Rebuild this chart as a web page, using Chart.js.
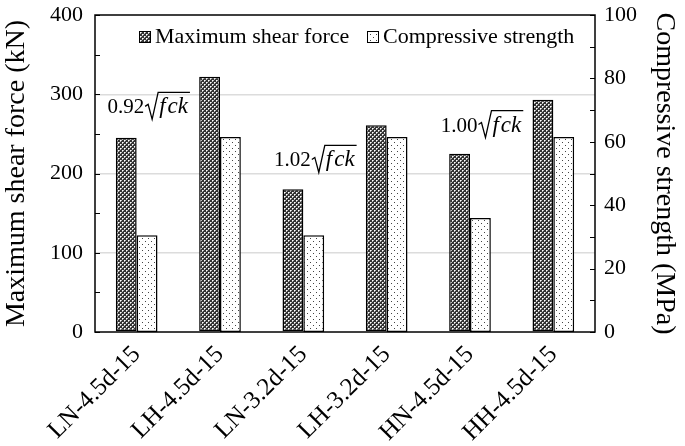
<!DOCTYPE html>
<html>
<head>
<meta charset="UTF-8">
<title>Maximum shear force and compressive strength</title>
<script src="https://cdn.jsdelivr.net/npm/chart.js"></script>
<style>
  html, body { margin: 0; padding: 0; background: #fff; }
  #wrap { width: 685px; height: 446px; position: relative; }
</style>
</head>
<body>
<div id="wrap"><canvas id="chart" width="685" height="446"></canvas></div>
<script>
// data
const specimens = ['LN-4.5d-15', 'LH-4.5d-15', 'LN-3.2d-15', 'LH-3.2d-15', 'HN-4.5d-15', 'HH-4.5d-15'];
const shearForce = [245, 322, 180, 261, 225, 293];          // kN
const compStrength = [30.5, 61.5, 30.5, 61.5, 36, 61.5];    // MPa
const seriesNames = ['Maximum shear force', 'Compressive strength'];

// ratio labels above some groups
const noteText = ['0.92', '1.02', '1.00'];
const noteIndex = [0, 2, 4];
const noteValue = [286, 219, 263];

const leftTicks = [0, 100, 200, 300, 400];
const rightTicks = [0, 20, 40, 60, 80, 100];

const SERIF = '"Liberation Serif", "DejaVu Serif", serif';

// fill patterns
function crossPattern() {
  const c = document.createElement('canvas');
  c.width = 4; c.height = 4;
  const g = c.getContext('2d');
  g.fillStyle = '#333';
  g.fillRect(0, 0, 4, 4);
  g.fillStyle = '#bbb';
  [[1, 0], [0, 1], [3, 2], [2, 3]].forEach(p => g.fillRect(p[0], p[1], 1, 1));
  g.fillStyle = '#fff';
  g.fillRect(0, 0, 1, 1);
  g.fillRect(2, 2, 1, 1);
  return g.createPattern(c, 'repeat');
}
function dotPattern() {
  const c = document.createElement('canvas');
  c.width = 6; c.height = 6;
  const g = c.getContext('2d');
  g.fillStyle = '#fff';
  g.fillRect(0, 0, 6, 6);
  g.fillStyle = '#444';
  g.fillRect(1, 1, 1, 1);
  g.fillRect(4, 4, 1, 1);
  return g.createPattern(c, 'repeat');
}
const fillShear = crossPattern();
const fillComp = dotPattern();

// box, inward ticks, legend and notes
const extras = {
  id: 'extras',
  afterDraw(chart) {
    const ctx = chart.ctx;
    const a = chart.chartArea;
    const y = chart.scales.y, y1 = chart.scales.y1, x = chart.scales.x;
    ctx.save();
    ctx.strokeStyle = '#000';
    ctx.lineWidth = 1.5;
    ctx.strokeRect(a.left, a.top, a.right - a.left, a.bottom - a.top);

    ctx.lineWidth = 1.2;
    ctx.beginPath();
    for (let v = 0; v <= 400; v += 50) {
      const py = Math.round(y.getPixelForValue(v)) + 0.5;
      ctx.moveTo(a.left, py); ctx.lineTo(a.left + 5, py);
    }
    for (let v = 0; v <= 100; v += 10) {
      const py = Math.round(y1.getPixelForValue(v)) + 0.5;
      ctx.moveTo(a.right, py); ctx.lineTo(a.right - 5, py);
    }
    ctx.stroke();

    // legend
    ctx.font = '22px ' + SERIF;
    ctx.textBaseline = 'middle';
    const ly = a.top + 21;
    const fills = [fillShear, fillComp];
    const lx = [139, 367];
    for (let i = 0; i < 2; i++) {
      ctx.fillStyle = fills[i];
      ctx.fillRect(lx[i], ly - 5, 11, 11);
      ctx.lineWidth = 1;
      ctx.strokeRect(lx[i] + 0.5, ly - 5 + 0.5, 11, 11);
      ctx.fillStyle = '#000';
      ctx.textAlign = 'left';
      ctx.fillText(seriesNames[i], lx[i] + 16, ly + 1);
    }

    // notes  k·sqrt(fck)
    for (let i = 0; i < noteText.length; i++) {
      const cx = x.getPixelForValue(noteIndex[i]) + 12;
      const cy = y.getPixelForValue(noteValue[i]);
      ctx.font = '21px ' + SERIF;
      const w1 = ctx.measureText(noteText[i]).width;
      ctx.font = 'italic 23px ' + SERIF;
      const wf = ctx.measureText('f').width;
      const wck = ctx.measureText('ck').width;
      const rad = 15;
      const total = w1 + rad + wf + wck + 4;
      let sx = cx - total / 2;
      ctx.fillStyle = '#000';
      ctx.textAlign = 'left';
      ctx.textBaseline = 'alphabetic';
      const base = cy + 8;
      ctx.font = '21px ' + SERIF;
      ctx.fillText(noteText[i], sx, base);
      sx += w1;
      // radical sign
      ctx.lineWidth = 1.3;
      ctx.beginPath();
      ctx.moveTo(sx + 1, base - 7);
      ctx.lineTo(sx + 4, base - 9);
      ctx.lineTo(sx + 8, base + 6);
      ctx.lineTo(sx + 14, base - 21);
      ctx.lineTo(sx + rad + wf + wck + 4, base - 21);
      ctx.stroke();
      sx += rad;
      ctx.font = 'italic 23px ' + SERIF;
      ctx.fillText('f', sx, base);
      ctx.fillText('ck', sx + wf + 2, base);
    }
    ctx.restore();
  }
};

new Chart(document.getElementById('chart'), {
  type: 'bar',
  data: {
    labels: specimens,
    datasets: [
      {
        label: seriesNames[0],
        data: shearForce,
        yAxisID: 'y',
        backgroundColor: fillShear,
        borderColor: '#000',
        borderWidth: 1.5,
        borderSkipped: false
      },
      {
        label: seriesNames[1],
        data: compStrength,
        yAxisID: 'y1',
        backgroundColor: fillComp,
        borderColor: '#000',
        borderWidth: 1.5,
        borderSkipped: false
      }
    ]
  },
  options: {
    responsive: false,
    animation: false,
    devicePixelRatio: 1,
    layout: { padding: { top: 15, right: 0, left: 0, bottom: 0 } },
    datasets: { bar: { categoryPercentage: 0.5, barPercentage: 1.0 } },
    plugins: {
      legend: { display: false },
      tooltip: { enabled: false }
    },
    scales: {
      x: {
        grid: { display: false, drawTicks: false },
        border: { display: false },
        ticks: {
          color: '#000',
          font: { family: SERIF, size: 25 },
          minRotation: 45,
          maxRotation: 45,
          padding: 8
        },
        afterFit(s) { s.height = 114; s.paddingLeft = 0; s.paddingRight = 0; }
      },
      y: {
        position: 'left',
        min: 0,
        max: 400,
        afterBuildTicks(s) { s.ticks = leftTicks.map(v => ({ value: v })); },
        grid: {
          drawTicks: false,
          color: c => (c.tick && c.tick.value > 0 && c.tick.value < 400) ? '#dcdcdc' : 'rgba(0,0,0,0)',
          lineWidth: 1.5
        },
        border: { display: false },
        ticks: { color: '#000', font: { family: SERIF, size: 22 }, padding: 12 },
        title: {
          display: true,
          text: 'Maximum shear force (kN)',
          color: '#000',
          font: { family: SERIF, size: 28 },
          padding: { top: 0, bottom: 2 }
        },
        afterFit(s) { s.width = 95; s.paddingTop = 0; s.paddingBottom = 0; }
      },
      y1: {
        position: 'right',
        min: 0,
        max: 100,
        afterBuildTicks(s) { s.ticks = rightTicks.map(v => ({ value: v })); },
        grid: { display: false, drawTicks: false },
        border: { display: false },
        ticks: { color: '#000', font: { family: SERIF, size: 22 }, padding: 9 },
        title: {
          display: true,
          text: 'Compressive strength (MPa)',
          color: '#000',
          font: { family: SERIF, size: 28 },
          padding: { top: 4, bottom: 0 }
        },
        afterFit(s) { s.width = 90; s.paddingTop = 0; s.paddingBottom = 0; }
      }
    }
  },
  plugins: [extras]
});
</script>
</body>
</html>
